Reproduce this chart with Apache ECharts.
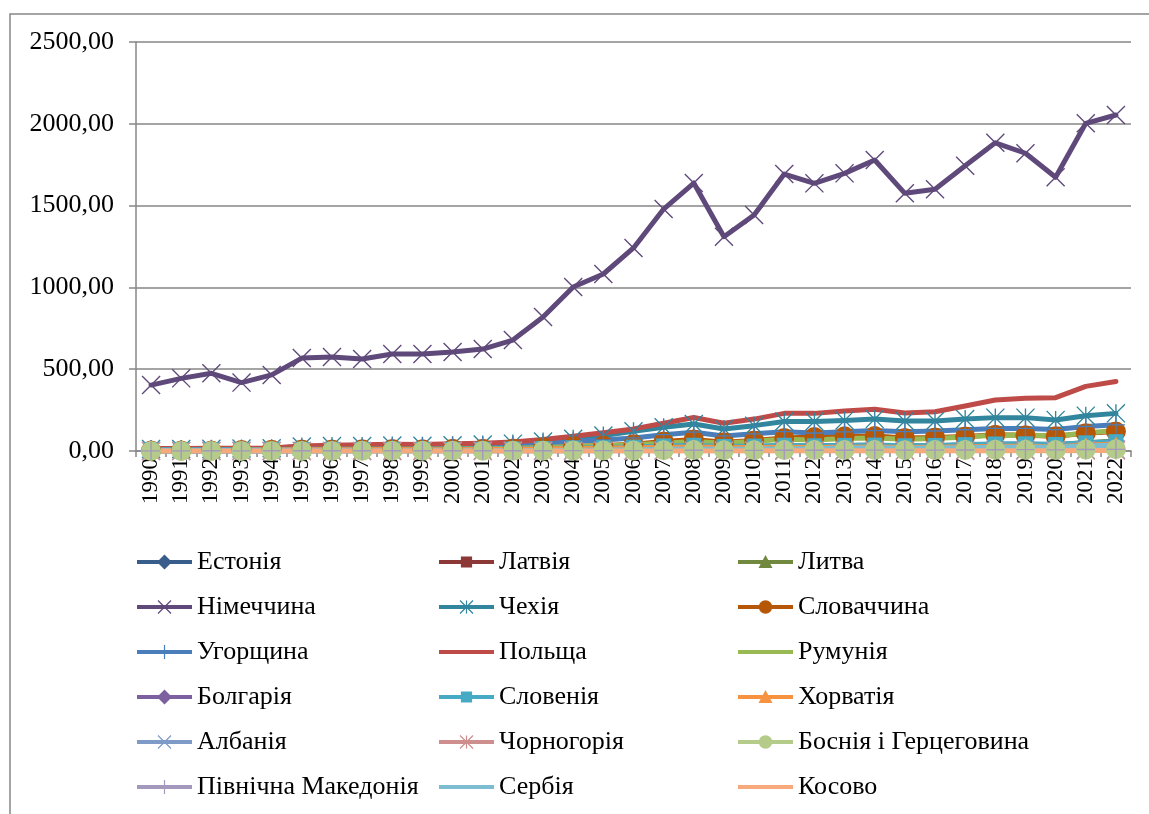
<!DOCTYPE html>
<html><head><meta charset="utf-8">
<script src="https://cdn.jsdelivr.net/npm/echarts@6/dist/echarts.min.js"></script>
<style>html,body{margin:0;padding:0;background:#fff}#c{width:1149px;height:814px}</style>
</head><body><div id="c"></div>
<script>
const years = ['1990','1991','1992','1993','1994','1995','1996','1997','1998','1999','2000','2001','2002','2003','2004','2005','2006','2007','2008','2009','2010','2011','2012','2013','2014','2015','2016','2017','2018','2019','2020','2021','2022'];
const yTicks = [0, 500, 1000, 1500, 2000, 2500];

const estonia   = [1,1,1,1.5,2.2,3,3.4,4.4,4.8,4.5,5.5,5.8,6.2,8,10.3,12.3,14.4,17.3,19.9,14.2,16.8,22.5,22.2,23.9,24.6,20.2,20.6,23.3,26,26.1,24.2,31.5,37.2];
const latvia    = [1,1,1,1.5,1.9,2.2,2.5,3,3.3,2.9,3.2,3.5,3.9,4.8,6.1,7.5,8.5,11,13.2,10.3,11.6,14.4,15.5,16.6,17.1,14.7,14.8,16.6,18.5,18.3,17.9,22,25.6];
const lithuania = [2,2,2,2.4,2.6,3.4,4.6,5.5,5,4.2,5.1,6,7,8.7,11,14,17,20,26,18.6,22,29,31,34,35,30,31,36,40,41,40,50,61];
const germany   = [403,444,475,418,465,568,575,562,593,593,605,623,678,819,1002,1082,1241,1479,1638,1310,1443,1693,1636,1697,1779,1575,1600,1744,1884,1820,1673,2003,2054];
const czechia   = [12,12,13,15,17,28,30,30,33,32,35,40,45,58,75,95,120,145,165,135,155,180,180,187,195,183,183,196,204,204,190,216,230];
const slovakia  = [3,3,3,6,7,9.5,9.5,10,12,11,13,14,16,23,29,33,42,58,70,54,64,79,85,90,91,80,82,89,99,97,90,109,119];
const hungary   = [10,10,11,10,11,17,18,22,26,28,32,35,38,47,60,67,80,100,115,92,105,118,110,117,125,118,122,130,138,138,131,150,160];
const poland    = [15,15,17,17,19,30,35,38,42,40,45,48,55,70,90,112,135,170,205,170,195,230,230,245,255,232,240,275,312,322,326,395,425];
const romania   = [6,4.5,5,5.5,7,9,9.5,10,10.5,10,12,14,16.5,21,28,32,38,47,58,48,59,72,67,76,80,72,77,86,97,98,92,110,125];
const bulgaria  = [6,3,5,4.5,4.6,6,5.5,5.5,5.4,5,6.2,6.8,7.4,9.6,12.5,14,17,22,27,21,24,31,31,34,35,30,32,37,41,42,37,48,57];
const slovenia  = [8,8,8,7.5,8.5,10.5,10.5,10.5,11,10.5,10.5,11,12.5,15.5,19,21,24,31,35,28,30,35,32,34,36,32,34,39,43,44,40,50,57];
const croatia   = [0,0,0,5,6,7.5,8,8,8.5,8,8,8.5,9.5,13,16,17.5,19.5,22,25,21,21,23,22,23,24,22,23,26,28,30,24,36,42];
const albania   = [0.4,0.1,0.1,0.2,0.3,0.3,0.4,0.2,0.3,0.5,0.8,0.9,0.9,1.1,1.6,1.8,2.1,2.6,3.4,3.3,3.8,4.3,4.1,4.4,4.8,3.9,4.3,5.1,6.2,6.3,4.8,7,8.5];
const montenegro= [0,0,0,0,0,0,0,0,0,0,0.4,0.5,0.5,0.6,0.8,0.9,1.2,1.7,1.7,1.4,1.5,1.8,1.8,1.9,1.9,1.6,1.7,1.9,2.2,2.3,1.1,2.5,3.5];
const bosnia    = [0,0,0,0,0.3,0.5,0.7,1,1.2,1.5,1.6,1.6,1.7,2.1,2.6,3,3.6,4.6,5.6,4.6,5,5.9,5.5,5.9,6.1,5.3,5.6,6.6,7.4,7.5,6.2,8.9,10.7];
const macedonia = [1.2,1.2,1.3,1.2,1.3,1.4,1.4,1.4,1.5,1.4,1.6,1.4,1.3,1.6,1.9,2.3,2.7,3.6,4.3,3.1,3.7,4.8,4.3,4.5,5.2,4.9,5.4,6.3,7.6,8,7.2,9.4,10.2];
const serbia    = [0,0,0,0,0,0,0,0,0,0,2.1,2.5,2.9,3.8,4.7,5.7,7.5,10,12.7,10,11.6,14,13.7,17.6,18.2,16.3,18,20.5,23.4,24.8,23.6,30.3,37];
const kosovo    = [0,0,0,0,0,0,0,0,0,0,0,0,0,0,0,0,0,0,0.6,0.6,0.8,1,1,1.1,1.3,1.2,1.3,1.6,1.7,2,1.5,2.6,3.1];

const names = ['Естонія','Латвія','Литва','Німеччина','Чехія','Словаччина','Угорщина','Польща','Румунія','Болгарія','Словенія','Хорватія','Албанія','Чорногорія','Боснія і Герцеговина','Північна Македонія','Сербія','Косово'];
const values = [estonia,latvia,lithuania,germany,czechia,slovakia,hungary,poland,romania,bulgaria,slovenia,croatia,albania,montenegro,bosnia,macedonia,serbia,kosovo];
const colors = ['#385D8A','#8C3836','#71893F','#5F497A','#31859C','#B65708','#4A7EBB','#BE4B48','#98B954','#7D60A0','#46AAC5','#F69240','#7E9BC8','#CE8E8D','#B4CB8A','#A598BD','#7DBDD1','#F8A97C'];
const markers = ['diamond','square','triangle','x','star','circle','plus','none','none','diamond','square','triangle','x','star','circle','plus','none','none'];

// ---- symbol geometry helpers (shapes only, no data) ----
function orient(pts){let a=0;for(let i=0;i<pts.length;i++){const p=pts[i],q=pts[(i+1)%pts.length];a+=p[0]*q[1]-q[0]*p[1];}return a<0?pts.slice().reverse():pts;}
function poly(pts){pts=orient(pts);return 'M'+pts.map(p=>p[0].toFixed(2)+','+p[1].toFixed(2)).join(' L')+' Z';}
function seg(x1,y1,x2,y2,w){const dx=x2-x1,dy=y2-y1,l=Math.hypot(dx,dy),nx=-dy/l*w,ny=dx/l*w;return poly([[x1+nx,y1+ny],[x2+nx,y2+ny],[x2-nx,y2-ny],[x1-nx,y1-ny]]);}
function circ(cx,cy,r){const p=[];for(let i=0;i<32;i++){const a=i/32*Math.PI*2;p.push([cx+r*Math.cos(a),cy+r*Math.sin(a)]);}return poly(p);}
function markerPath(type,cx,cy,s,w){
  const h=s/2;
  switch(type){
    case 'diamond': return poly([[cx,cy-h],[cx+h,cy],[cx,cy+h],[cx-h,cy]]);
    case 'square': return poly([[cx-h*0.8,cy-h*0.8],[cx+h*0.8,cy-h*0.8],[cx+h*0.8,cy+h*0.8],[cx-h*0.8,cy+h*0.8]]);
    case 'triangle': return poly([[cx,cy-h],[cx+h,cy+h*0.85],[cx-h,cy+h*0.85]]);
    case 'circle': return circ(cx,cy,h*0.9);
    case 'x': return seg(cx-h,cy-h,cx+h,cy+h,w)+' '+seg(cx+h,cy-h,cx-h,cy+h,w);
    case 'star': return seg(cx-h,cy-h,cx+h,cy+h,w)+' '+seg(cx+h,cy-h,cx-h,cy+h,w)+' '+seg(cx,cy-h,cx,cy+h,w);
    case 'plus': return seg(cx,cy-h,cx,cy+h,w)+' '+seg(cx-h,cy,cx+h,cy,w);
  }
  return '';
}
function chartSymbol(type){
  if(type==='none') return 'none';
  if(type==='diamond') return 'diamond';
  if(type==='square') return 'rect';
  if(type==='triangle') return 'triangle';
  if(type==='circle') return 'circle';
  return 'path://'+markerPath(type,10,10,20,0.75)+' M0,0 L0.01,0 L0,0.01 Z M20,20 L19.99,20 L20,19.99 Z';
}
const LW=55, LH=16;
function legendIcon(type){
  let p=poly([[0,LH/2-2],[LW,LH/2-2],[LW,LH/2+2],[0,LH/2+2]]);
  const sz={diamond:15,square:14,triangle:14,circle:15,x:13,star:13,plus:14}[type];
  if(type!=='none') p+=' '+markerPath(type,LW/2,LH/2,sz,0.6);
  p+=' M0,0 L0.01,0 L0,0.01 Z M0,'+LH+' L0.01,'+LH+' L0,'+(LH-0.01)+' Z';
  return 'path://'+p;
}
const sizes = {diamond:17,square:15,triangle:16,circle:20,x:19,star:19,plus:18,none:0};

const FONT = "'Liberation Serif','Times New Roman',serif";
const GRAY = '#868686';

const series = names.map((n,i)=>({
  name:n, type:'line', data:values[i],
  symbol:chartSymbol(markers[i]), symbolSize:sizes[markers[i]], showSymbol:markers[i]!=='none',
  lineStyle:{width:5,color:colors[i],cap:'round',join:'round'},
  itemStyle:{color:colors[i],borderWidth:0},
  emphasis:{disabled:true}, silent:true
}));

const cols = [
  ['Естонія','Німеччина','Угорщина','Болгарія','Албанія','Північна Македонія'],
  ['Латвія','Чехія','Польща','Словенія','Чорногорія','Сербія'],
  ['Литва','Словаччина','Румунія','Хорватія','Боснія і Герцеговина','Косово']
];
const colLeft = [137,439,738];
const legendText = {fontFamily:FONT,fontSize:26,color:'#000',lineHeight:30};
const legends = cols.map((d,k)=>({
  data:d.map(n=>({name:n,icon:legendIcon(markers[names.indexOf(n)]),textStyle:legendText})),
  orient:'vertical', left:colLeft[k], top:547, padding:0,
  itemWidth:LW, itemHeight:LH, itemGap:15, selectedMode:false, symbolKeepAspect:true,
  textStyle:legendText
}));

const chart = echarts.init(document.getElementById('c'));
chart.setOption({
  animation:false,
  backgroundColor:'#fff',
  textStyle:{fontFamily:FONT},
  color:colors,
  graphic:[{type:'rect',shape:{x:10,y:14,width:1170,height:830},style:{fill:'none',stroke:GRAY,lineWidth:1.5},silent:true}],
  grid:{left:136,top:42,right:18,bottom:363},
  legend:legends,
  xAxis:{type:'category',data:years,boundaryGap:true,
    axisLine:{lineStyle:{color:GRAY,width:1.5}},
    axisTick:{show:true,interval:0,length:6,lineStyle:{color:GRAY,width:1.5}},
    axisLabel:{interval:0,rotate:90,margin:7,fontFamily:FONT,fontSize:23,color:'#000'}},
  yAxis:{type:'value',min:yTicks[0],max:yTicks[yTicks.length-1],interval:500,
    axisLine:{show:true,lineStyle:{color:GRAY,width:1.5}},
    axisTick:{show:true,length:7,lineStyle:{color:GRAY,width:1.5}},
    splitLine:{lineStyle:{color:GRAY,width:1.5}},
    axisLabel:{margin:22,fontFamily:FONT,fontSize:26,color:'#000',
      formatter:v=>v.toFixed(2).replace('.',',')}},
  series:series
});
</script></body></html>
